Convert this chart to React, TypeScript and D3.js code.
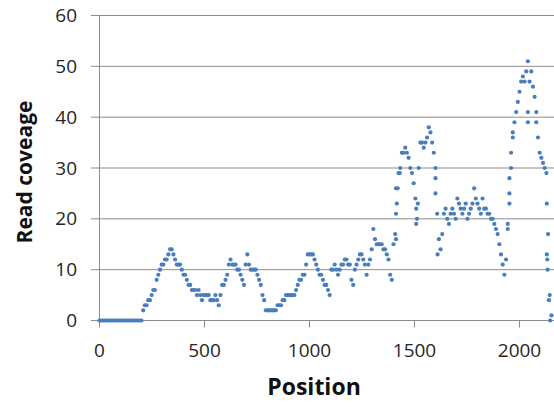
import * as d3 from "d3";

const STEP = 8;
const coverage = [
  0, 0, 0, 0, 0, 0, 0, 0, 0, 0, 0, 0, 0, 0, 0, 0, 0, 0, 0, 0, 0, 0, 0, 0, 0, 0,
  2, 3, 3, 4, 4, 5, 6, 6, 8, 9, 10, 11, 11, 12, 12, 13, 14, 14, 13, 12, 11, 11, 11, 10,
  9, 9, 8, 7, 7, 6, 6, 6, 5, 6, 5, 4, 5, 5, 5, 5, 4, 4, 4, 5,
  4, 3, 5, 7, 7, 8, 9, 11, 12, 11, 11, 11, 10, 10, 9, 8, 7, 11, 13, 11,
  10, 10, 10, 10, 9, 8, 7, 5, 4, 2, 2, 2, 2, 2, 2, 2, 3, 3, 3, 4,
  4, 5, 5, 5, 5, 5, 5, 6, 7, 8, 8, 9, 9, 11, 13, 13, 13, 13, 12, 11,
  10, 9, 9, 8, 7, 7, 6, 5, 10, 10, 11, 10, 9, 10, 11, 11, 12, 12, 11, 11,
  8, 7, 10, 11, 12, 13, 13, 12, 11, 9, 11, 12, 14, 18, 16, 15, 15, 15, 15, 14,
  14, 13, 12, 9, 8, 15, 17, 23, 29, 30, 33, 33, 34, 33, 32, 30, 29, 27, 24, 20,
  30, 35, 35, 34, 35, 36, 38, 37, 35, 33, 30, 21, 16, 14, 17, 21, 22, 20, 19, 21,
  22, 21, 20, 24, 23, 22, 21, 22, 23, 20, 21, 22, 23, 26, 24, 23, 22, 21, 24, 22,
  22, 21, 21, 20, 20, 19, 18, 17, 15, 13, 11, 9, 12, 18, 23, 30, 36, 39, 41, 43,
  45, 47, 48, 47, 49, 51, 47, 49, 46, 44, 41, 36, 33, 32, 31, 30, 29, 17, 5, 1,
];

// extra reads stacked at the steep parts of the profile
const extraPos = [1412, 1412, 1412, 1420, 1430, 1508, 1508, 1516, 1600, 1600, 1610, 1944, 1952, 1952, 1960, 1968, 2040, 2040, 2080, 2130, 2130, 2132, 2134, 2140, 2146];
const extraCov = [16, 21, 26, 26, 29, 22, 19, 23, 28, 25, 13, 19, 25, 28, 33, 37, 41, 39, 39, 23, 13, 12, 10, 4, 0];

const xTicks = [0, 500, 1000, 1500, 2000];
const yTicks = [0, 10, 20, 30, 40, 50, 60];

const W = 554;
const H = 407;
const FONT = "Open Sans, sans-serif";

export default function App() {
  const x = d3.scaleLinear().domain([0, 2000]).range([99.5, 519.5]);
  const y = d3.scaleLinear().domain([0, 60]).range([320.5, 15.5]);

  const points = coverage
    .map((c, i) => ({ pos: i * STEP, cov: c }))
    .concat(extraPos.map((p, i) => ({ pos: p, cov: extraCov[i] })));

  return (
    <svg width={W} height={H} style={{ position: "absolute", left: 0, top: 0, background: "#fff" }}>
      {/* grid + y ticks */}
      {yTicks.map((t) => (
        <g key={t}>
          <line x1={91} x2={W} y1={y(t)} y2={y(t)} stroke="#8c8c8c" strokeWidth={1} />
          <text x={77} y={y(t)} dy="0.35em" textAnchor="end" fontSize={19} fontFamily={FONT} fill="#262626">
            {t}
          </text>
        </g>
      ))}
      {/* y axis */}
      <line x1={x(0)} x2={x(0)} y1={y(60)} y2={y(0)} stroke="#8c8c8c" />
      {/* x ticks */}
      {xTicks.map((t) => (
        <g key={t}>
          <line x1={x(t)} x2={x(t)} y1={y(0)} y2={y(0) + 7} stroke="#8c8c8c" />
          <text x={x(t)} y={357} textAnchor="middle" fontSize={19} fontFamily={FONT} fill="#262626">
            {t}
          </text>
        </g>
      ))}

      {points.map((d, i) => (
        <circle key={i} cx={x(d.pos)} cy={y(d.cov)} r={2.1} fill="#4a7ebb" />
      ))}

      <text x={314} y={395} textAnchor="middle" fontSize={23} fontWeight="bold" fontFamily={FONT} fill="#111">
        Position
      </text>
      <text
        transform="translate(32,172) rotate(-90)"
        textAnchor="middle"
        fontSize={21}
        fontWeight="bold"
        fontFamily={FONT}
        fill="#111"
      >
        Read coveage
      </text>
    </svg>
  );
}
